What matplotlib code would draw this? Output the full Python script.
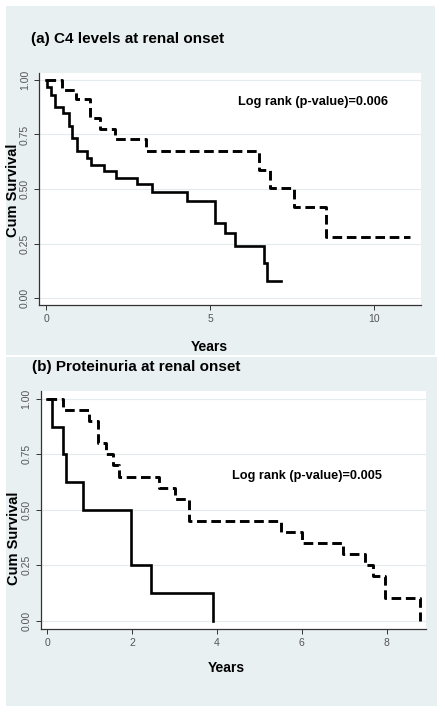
import matplotlib
matplotlib.use("Agg")
import matplotlib.pyplot as plt
from matplotlib.patches import Rectangle

# ---------------- data ----------------
# Panel (a): C4 levels at renal onset
a_solid_t = [0, 0.02, 0.14, 0.26, 0.52, 0.70, 0.80, 0.95, 1.25, 1.36, 1.77, 2.12,
             2.78, 3.23, 4.28, 5.14, 5.46, 5.76, 6.65, 6.72, 7.15]
a_solid_s = [1.0, 0.966, 0.933, 0.877, 0.85, 0.79, 0.732, 0.674, 0.644, 0.612, 0.581,
             0.552, 0.521, 0.485, 0.446, 0.345, 0.297, 0.239, 0.159, 0.08, 0.08]
a_dash_t = [0, 0.47, 0.91, 1.33, 1.64, 2.09, 3.03, 6.49, 6.82, 7.55, 8.52, 11.09]
a_dash_s = [1.0, 0.954, 0.911, 0.824, 0.775, 0.728, 0.674, 0.587, 0.503, 0.419, 0.278, 0.278]

# Panel (b): Proteinuria at renal onset
b_solid_t = [0, 0.10, 0.36, 0.43, 0.85, 1.97, 2.44, 3.90]
b_solid_s = [1.0, 0.875, 0.75, 0.625, 0.5, 0.25, 0.125, 0.0]
b_dash_t = [0, 0.36, 0.99, 1.19, 1.39, 1.56, 1.69, 2.64, 3.01, 3.33, 5.51, 6.0,
            6.98, 7.48, 7.69, 7.97, 8.78]
b_dash_s = [1.0, 0.95, 0.90, 0.80, 0.75, 0.70, 0.65, 0.60, 0.55, 0.45, 0.40, 0.35,
            0.30, 0.25, 0.20, 0.10, 0.0]

y_ticks = [0.0, 0.25, 0.5, 0.75, 1.0]
y_ticklabels = ["0.00", "0.25", "0.50", "0.75", "1.00"]
a_x_ticks = [0, 5, 10]
b_x_ticks = [0, 2, 4, 6, 8]

titles = ["(a) C4 levels at renal onset", "(b) Proteinuria at renal onset"]
logrank = ["Log rank (p-value)=0.006", "Log rank (p-value)=0.005"]
ylabel = "Cum Survival"
xlabel = "Years"

# ---------------- style ----------------
W, H = 445, 715
BG = "#e9f0f2"
BOLD = ["Liberation Sans", "DejaVu Sans"]
REG = ["Liberation Sans", "DejaVu Sans"]

fig = plt.figure(figsize=(W / 100, H / 100), dpi=100)
fig.patch.set_facecolor("white")

def fx(px):
    return px / W

def fy(py):
    return 1 - py / H

# panel backgrounds
fig.patches.append(Rectangle((fx(6), fy(355)), fx(429), 349 / H, transform=fig.transFigure,
                             facecolor=BG, edgecolor="none", zorder=-5))
fig.patches.append(Rectangle((fx(6), fy(706)), fx(431), 349 / H, transform=fig.transFigure,
                             facecolor=BG, edgecolor="none", zorder=-5))

panels = [
    dict(rect=[fx(39), fy(305), fx(421 - 39), (305 - 73) / H], xlim=(-0.22, 11.42),
         ylim=(-0.032, 1.032), xt=a_x_ticks,
         solid=(a_solid_t, a_solid_s), dash=(a_dash_t, a_dash_s),
         lr=(5.84, 0.899), title=(31, 39), xl=(209, 347), yl=(13, 190)),
    dict(rect=[fx(40.7), fy(629), fx(426 - 40.7), (629 - 391) / H], xlim=(-0.155, 8.93),
         ylim=(-0.0376, 1.036), xt=b_x_ticks,
         solid=(b_solid_t, b_solid_s), dash=(b_dash_t, b_dash_s),
         lr=(4.36, 0.654), title=(32, 367), xl=(226, 668), yl=(14, 538)),
]

for i, p in enumerate(panels):
    ax = fig.add_axes(p["rect"])
    ax.set_facecolor("white")
    ax.set_xlim(*p["xlim"])
    ax.set_ylim(*p["ylim"])
    for s in ["top", "right"]:
        ax.spines[s].set_visible(False)
    for s in ["left", "bottom"]:
        ax.spines[s].set_color("#333333")
        ax.spines[s].set_linewidth(0.9)
    ax.set_yticks(y_ticks)
    ax.set_yticklabels(y_ticklabels, rotation=90, va="center", family=REG)
    ax.set_xticks(p["xt"])
    ax.set_xticklabels([str(v) for v in p["xt"]], family=REG)
    ax.tick_params(axis="both", direction="out", length=3.5, width=0.7, color="#333333",
                   labelsize=7.5, labelcolor="#555555", pad=3)
    ax.grid(axis="y", color="#e2ecef", linewidth=0.8)
    ax.set_axisbelow(True)

    ax.step(p["solid"][0], p["solid"][1], where="post", color="black", lw=1.9,
            solid_joinstyle="miter")
    ax.step(p["dash"][0], p["dash"][1], where="post", color="black", lw=2.1,
            linestyle=(0, (3.3, 1.6)), dash_capstyle="butt")

    ax.text(p["lr"][0], p["lr"][1], logrank[i], fontsize=9.2, fontweight="bold",
            family=BOLD, ha="left", va="center")

    fig.text(fx(p["title"][0]), fy(p["title"][1]), titles[i], fontsize=11,
             fontweight="bold", family=BOLD, ha="left", va="center")
    fig.text(fx(p["xl"][0]), fy(p["xl"][1]), xlabel, fontsize=10, fontweight="bold",
             family=BOLD, ha="center", va="center")
    fig.text(fx(p["yl"][0]), fy(p["yl"][1]), ylabel, fontsize=10.5, fontweight="bold",
             family=BOLD, ha="center", va="center", rotation=90)

fig.savefig("out.png", dpi=100, facecolor="white")
